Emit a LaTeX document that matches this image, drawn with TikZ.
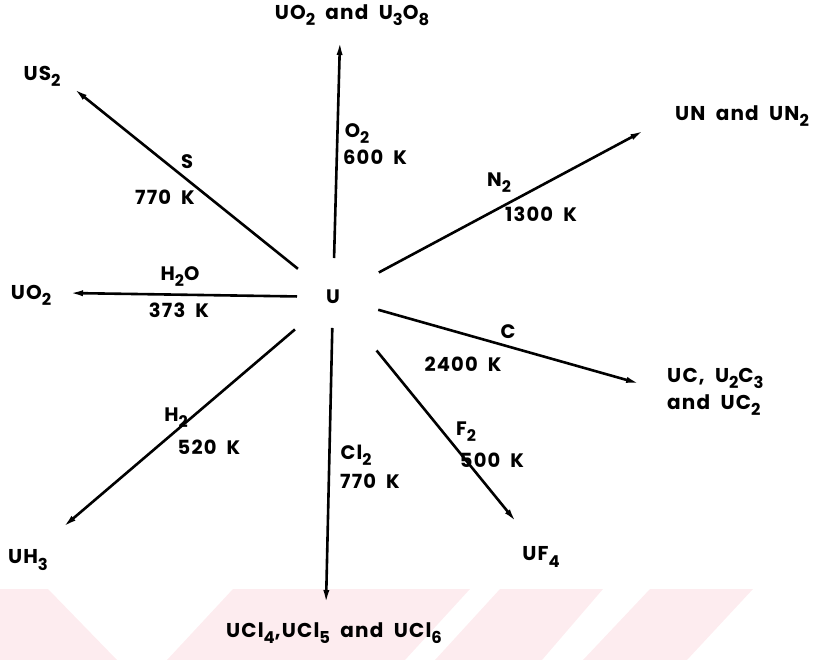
\documentclass[tikz,border=0pt]{standalone}
\usepackage{fontspec}
\setmainfont{Poppins}[LetterSpace=6,WordSpace=1.9]
\usetikzlibrary{arrows.meta}
\definecolor{wmpink}{RGB}{253,236,239}
\newcommand\sbs[1]{\raisebox{-0.55ex}{\scalebox{0.82}{#1}}}
\tikzset{
  rxn/.style={line width=2.6pt, -{Latex[length=15pt,width=6pt]}},
  lbl/.style={font=\fontsize{19.5}{21}\selectfont\bfseries, inner sep=1pt},
  prod/.style={font=\fontsize{20}{27}\selectfont\bfseries, inner sep=1pt, align=left}
}
\begin{document}
\begin{tikzpicture}[x=1pt, y=-1pt]
            \useasboundingbox (0,0) rectangle (815,660);
            % ==== WATERMARK BAND ====
            \fill[wmpink] (0,589) -- (48,589) -- (117,660) -- (0,660) -- cycle;
            \fill[wmpink] (233,589) -- (470,589) -- (405,660) -- (167,660) -- cycle;
            \fill[wmpink] (500,589) -- (603,589) -- (542,660) -- (435,660) -- cycle;
            \fill[wmpink] (650,589) -- (753,589) -- (687,660) -- (583,660) -- cycle;
            % ==== CENTRE ====
            \node[lbl] (U) at (333,297) {U};
            % ==== ARROW TIPS ====
            \coordinate (o2tip) at (340,40);
            \coordinate (stip) at (73,88);
            \coordinate (h2otip) at (68,293);
            \coordinate (h2tip) at (62,528);
            \coordinate (cl2tip) at (326,605);
            \coordinate (f2tip) at (517,523);
            \coordinate (ctip) at (641,384);
            \coordinate (n2tip) at (645,130);
            % ==== REACTION ARROWS ====
            \draw[rxn, shorten <=39pt] (U.center) -- (o2tip);
            \draw[rxn, shorten <=45pt] (U.center) -- (stip);
            \draw[rxn, shorten <=36pt] (U.center) -- (h2otip);
            \draw[rxn, shorten <=50pt] (U.center) -- (h2tip);
            \draw[rxn, shorten <=31pt] (U.center) -- (cl2tip);
            \draw[rxn, shorten <=69pt] (U.center) -- (f2tip);
            \draw[rxn, shorten <=47pt] (U.center) -- (ctip);
            \draw[rxn, shorten <=52pt] (U.center) -- (n2tip);
            % ==== PRODUCTS ====
            \node[prod] (uo2u3o8) at (352,15) {UO\sbs{2} and U\sbs{3}O\sbs{8}};
            \node[prod] (us2) at (42,76) {US\sbs{2}};
            \node[prod] (un) at (742,116) {UN and UN\sbs{2}};
            \node[prod] (uo2) at (31,295) {UO\sbs{2}};
            \node[prod, anchor=west] (uc) at (666,392) {UC, U\sbs{2}C\sbs{3}\\and UC\sbs{2}};
            \node[prod] (uh3) at (28,560) {UH\sbs{3}};
            \node[prod] (uf4) at (541,557) {UF\sbs{4}};
            \node[prod] (ucl) at (334,633) {UCl\sbs{4},UCl\sbs{5} and UCl\sbs{6}};
            % ==== CONDITIONS ====
            \node[lbl] (s) at (187,162) {S};
            \node[lbl] (sT) at (165,197) {770 K};
            \node[lbl] (o2) at (357,134) {O\sbs{2}};
            \node[lbl] (o2T) at (375,157) {600 K};
            \node[lbl] (n2) at (499,183) {N\sbs{2}};
            \node[lbl] (n2T) at (541,214) {1300 K};
            \node[lbl] (h2o) at (180,277) {H\sbs{2}O};
            \node[lbl] (h2oT) at (179,310) {373 K};
            \node[lbl] (c) at (508,332) {C};
            \node[lbl] (cT) at (463,364) {2400 K};
            \node[lbl] (h2) at (176,418) {H\sbs{2}};
            \node[lbl] (h2T) at (209,447) {520 K};
            \node[lbl] (cl2) at (356,455) {Cl\sbs{2}};
            \node[lbl] (cl2T) at (370,481) {770 K};
            \node[lbl] (f2) at (466,432) {F\sbs{2}};
            \node[lbl] (f2T) at (492,460) {500 K};
         \end{tikzpicture}
\end{document}
